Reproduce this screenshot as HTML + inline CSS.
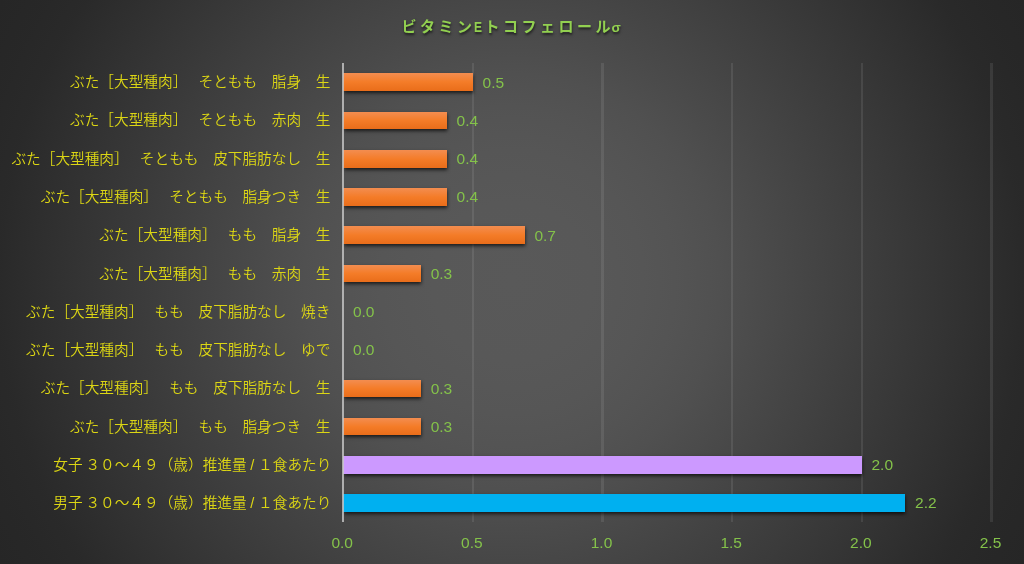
<!DOCTYPE html>
<html lang="ja">
<head>
<meta charset="utf-8">
<title>ビタミンEトコフェロールσ</title>
<style>
html,body{margin:0;padding:0;}
body{width:1024px;height:564px;overflow:hidden;position:relative;
 background:#262626 radial-gradient(circle 585px at 512px 282px,rgb(89.0,89.0,89.0) 0px,rgb(88.0,88.0,88.0) 80px,rgb(86.0,86.0,86.0) 132px,rgb(83.5,83.5,83.5) 170px,rgb(80.0,80.0,80.0) 208px,rgb(41.5,41.5,41.5) 512px,rgb(39.5,39.5,39.5) 545px,rgb(38.0,38.0,38.0) 585px);
 font-family:"Liberation Sans","Noto Sans CJK JP",sans-serif;}
.title{position:absolute;left:401.6px;top:12.5px;height:28px;line-height:28px;white-space:nowrap;
 color:#92d050;font-weight:bold;font-size:15px;letter-spacing:3.5px;text-spacing-trim:space-all;
 text-shadow:0.5px 1.5px 2.5px rgba(0,0,0,0.6);}
.title .n{letter-spacing:2px;}
.title .e{display:inline-block;width:10.3px;font-size:14.3px;letter-spacing:0;transform:scaleX(0.84);transform-origin:0 50%;}
.title .r{letter-spacing:1.1px;}
.title .s{font-size:13.5px;letter-spacing:0;}
.grid{position:absolute;top:63.1px;height:459.1px;width:2.4px;background:rgba(255,255,255,0.085);}
.axis{position:absolute;top:63.1px;height:459.1px;left:342.4px;width:1.5px;background:rgba(200,200,200,0.8);}
.cat{position:absolute;left:0;width:330.7px;text-align:right;color:#dcd614;font-weight:350;font-size:14.67px;text-spacing-trim:space-all;
 height:20px;line-height:20px;white-space:nowrap;}
.k{letter-spacing:-3.5px;}
.g{letter-spacing:3.7px;}
.g2{letter-spacing:2.7px;}
.bar{position:absolute;left:343.2px;height:17.6px;box-shadow:0.5px 2px 3.5px rgba(0,0,0,0.7);}
.o{background:linear-gradient(#f38d50,#f47c28 50%,#e96d1a);}
.p{background:#cc99ff;}
.b{background:#00b0f0;}
.val{position:absolute;color:#84c24a;font-size:15.5px;height:20px;line-height:20px;white-space:nowrap;transform-origin:0 50%;}
.tick{position:absolute;top:532.6px;width:60px;margin-left:-30px;text-align:center;color:#84c24a;font-size:15.5px;height:20px;line-height:20px;}
</style>
</head>
<body>
<div class="title">ビタミ<span class="n">ン</span><span class="e">E</span>トコフェロー<span class="r">ル</span><span class="s">σ</span></div>
<div class="grid" style="left:471.80px"></div>
<div class="grid" style="left:601.45px"></div>
<div class="grid" style="left:731.10px"></div>
<div class="grid" style="left:860.75px"></div>
<div class="grid" style="left:990.40px"></div>
<div class="cat" style="top:72.23px;width:330.4px">ぶた［大型種肉］<span class="k">　</span>そともも　脂身　生</div>
<div class="bar o" style="top:73.43px;width:129.7px"></div>
<div class="val" style="top:72.63px;left:482.6px">0.5</div>
<div class="cat" style="top:110.49px;width:330.4px">ぶた［大型種肉］<span class="k">　</span>そともも　赤肉　生</div>
<div class="bar o" style="top:111.69px;width:103.7px"></div>
<div class="val" style="top:110.89px;left:456.6px">0.4</div>
<div class="cat" style="top:148.75px;width:330.4px">ぶた［大型種肉］<span class="k">　</span>そともも　皮下脂肪なし　生</div>
<div class="bar o" style="top:149.95px;width:103.7px"></div>
<div class="val" style="top:149.15px;left:456.6px">0.4</div>
<div class="cat" style="top:187.00px;width:330.4px">ぶた［大型種肉］<span class="k">　</span>そともも　脂身つき　生</div>
<div class="bar o" style="top:188.20px;width:103.7px"></div>
<div class="val" style="top:187.40px;left:456.6px">0.4</div>
<div class="cat" style="top:225.26px;width:330.4px">ぶた［大型種肉］<span class="k">　</span>もも　脂身　生</div>
<div class="bar o" style="top:226.46px;width:181.5px"></div>
<div class="val" style="top:225.66px;left:534.4px">0.7</div>
<div class="cat" style="top:263.52px;width:330.4px">ぶた［大型種肉］<span class="k">　</span>もも　赤肉　生</div>
<div class="bar o" style="top:264.72px;width:77.8px"></div>
<div class="val" style="top:263.92px;left:430.7px">0.3</div>
<div class="cat" style="top:301.78px;width:330.4px">ぶた［大型種肉］<span class="k">　</span>もも　皮下脂肪なし　焼き</div>
<div class="val" style="top:302.18px;left:352.9px">0.0</div>
<div class="cat" style="top:340.04px;width:330.4px">ぶた［大型種肉］<span class="k">　</span>もも　皮下脂肪なし　ゆで</div>
<div class="val" style="top:340.44px;left:352.9px">0.0</div>
<div class="cat" style="top:378.30px;width:330.4px">ぶた［大型種肉］<span class="k">　</span>もも　皮下脂肪なし　生</div>
<div class="bar o" style="top:379.50px;width:77.8px"></div>
<div class="val" style="top:378.70px;left:430.7px">0.3</div>
<div class="cat" style="top:416.55px;width:330.4px">ぶた［大型種肉］<span class="k">　</span>もも　脂身つき　生</div>
<div class="bar o" style="top:417.75px;width:77.8px"></div>
<div class="val" style="top:416.95px;left:430.7px">0.3</div>
<div class="cat" style="top:454.81px;width:331.4px">女<span class="g2">子</span>３０～４９（歳）推進<span class="g">量</span><span class="g">/</span>１食あたり</div>
<div class="bar p" style="top:456.01px;width:518.6px"></div>
<div class="val" style="top:455.21px;left:871.5px">2.0</div>
<div class="cat" style="top:493.07px;width:331.4px">男<span class="g2">子</span>３０～４９（歳）推進<span class="g">量</span><span class="g">/</span>１食あたり</div>
<div class="bar b" style="top:494.27px;width:562.2px"></div>
<div class="val" style="top:493.47px;left:915.1px">2.2</div>
<div class="axis"></div>
<div class="tick" style="left:342.2px">0.0</div>
<div class="tick" style="left:471.9px">0.5</div>
<div class="tick" style="left:601.5px">1.0</div>
<div class="tick" style="left:731.2px">1.5</div>
<div class="tick" style="left:860.8px">2.0</div>
<div class="tick" style="left:990.5px">2.5</div>
</body>
</html>
